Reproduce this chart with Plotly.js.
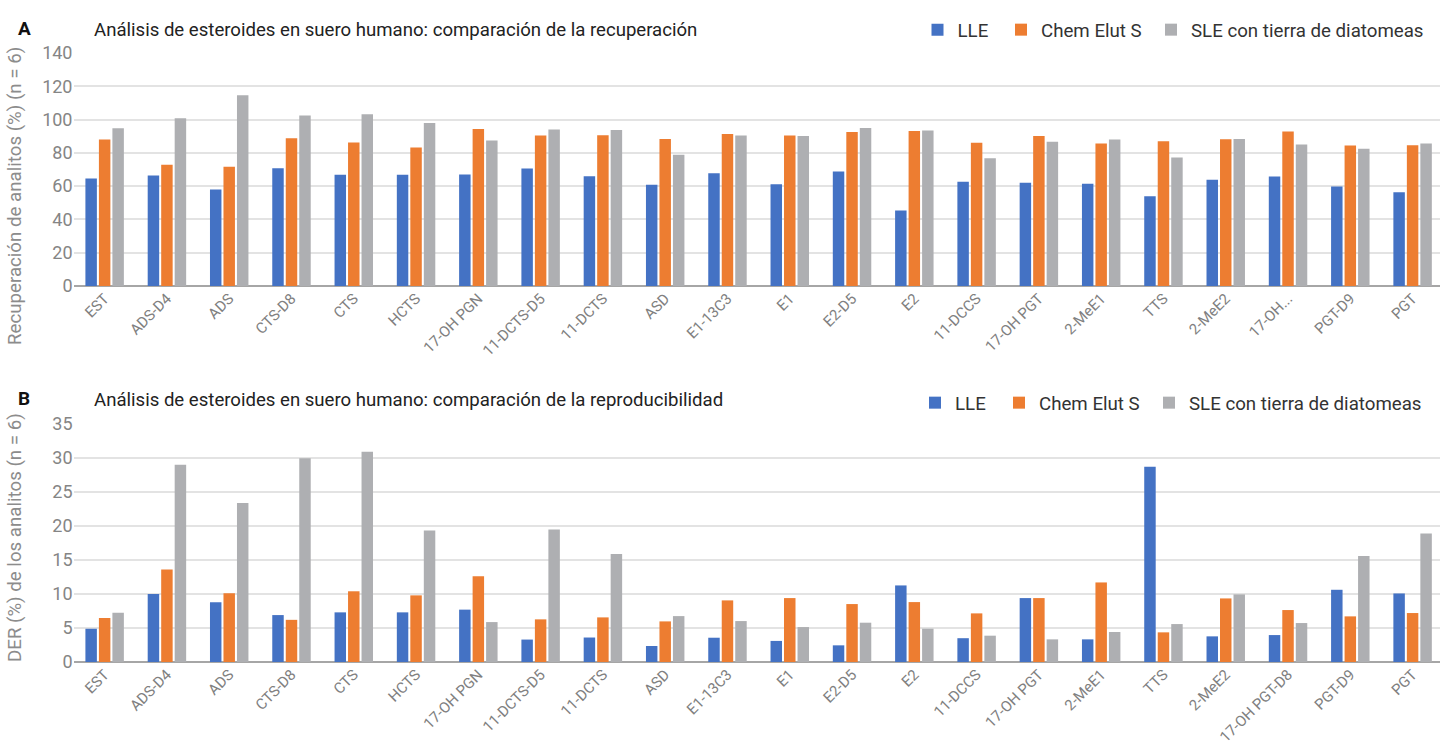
<!DOCTYPE html>
<html>
<head>
<meta charset="utf-8">
<script src="https://cdn.plot.ly/plotly-3.0.1.min.js"></script>
<style>html,body{margin:0;padding:0;background:#fff;}#chart{width:1440px;height:747px;}</style>
</head>
<body>
<div id="chart"></div>
<script>
// ---- Data ----
const categoriesA = ["EST","ADS-D4","ADS","CTS-D8","CTS","HCTS","17-OH PGN","11-DCTS-D5","11-DCTS","ASD","E1-13C3","E1","E2-D5","E2","11-DCCS","17-OH PGT","2-MeE1","TTS","2-MeE2","17-OH...","PGT-D9","PGT"];
const categoriesB = ["EST","ADS-D4","ADS","CTS-D8","CTS","HCTS","17-OH PGN","11-DCTS-D5","11-DCTS","ASD","E1-13C3","E1","E2-D5","E2","11-DCCS","17-OH PGT","2-MeE1","TTS","2-MeE2","17-OH PGT-D8","PGT-D9","PGT"];
const seriesNames = ["LLE","Chem Elut S","SLE con tierra de diatomeas"];

// Recovery (%) (n = 6)
const recLLE  = [64.6,66.4,58.0,70.8,66.8,66.8,67.0,70.6,66.0,60.8,67.8,61.2,68.8,45.4,62.6,62.0,61.4,54.0,63.8,65.8,59.8,56.4];
const recChem = [88.0,72.8,71.6,88.8,86.2,83.2,94.4,90.4,90.6,88.4,91.4,90.4,92.6,93.2,86.0,90.2,85.6,87.0,88.2,92.8,84.4,84.6];
const recSLE  = [94.8,100.8,114.6,102.4,103.2,98.0,87.4,94.0,93.8,78.8,90.4,90.2,95.0,93.4,76.8,86.6,88.0,77.2,88.4,85.0,82.4,85.6];

// RSD (%) (n = 6)
const derLLE  = [4.9,10.0,8.8,6.9,7.3,7.3,7.7,3.3,3.6,2.35,3.57,3.1,2.45,11.26,3.5,9.4,3.33,28.73,3.77,3.96,10.62,10.08];
const derChem = [6.46,13.6,10.1,6.2,10.4,9.8,12.6,6.27,6.56,5.97,9.06,9.4,8.52,8.81,7.15,9.4,11.7,4.36,9.35,7.64,6.71,7.2];
const derSLE  = [7.24,29.0,23.4,29.96,30.93,19.33,5.87,19.48,15.9,6.75,6.02,5.14,5.78,4.9,3.87,3.33,4.41,5.58,9.94,5.73,15.6,18.9];

const colors = ["#4472C4","#ED7D31","#AEAFB2"];

const W = 1440, H = 747;
const px = v => v / W, py = v => 1 - v / H;
const FONT = "Roboto, 'Noto Sans', sans-serif";

// legend ids: one legend per entry so each entry sits where the reference puts it
const legendIdsA = ["legend","legend2","legend3"];
const legendIdsB = ["legend4","legend5","legend6"];
const legendTextXA = [958.5, 1042, 1192];
const legendTextXB = [956, 1040, 1190];

// ---- Traces ----
const traces = [];
[recLLE, recChem, recSLE].forEach((vals, i) => {
  traces.push({type:"bar", x:categoriesA, y:vals, name:seriesNames[i], xaxis:"x", yaxis:"y", showlegend:true,
    marker:{color:colors[i], line:{width:0}}, legend:legendIdsA[i], hoverinfo:"x+y+name"});
});
[derLLE, derChem, derSLE].forEach((vals, i) => {
  traces.push({type:"bar", x:categoriesB, y:vals, name:seriesNames[i], xaxis:"x2", yaxis:"y2", showlegend:true,
    marker:{color:colors[i], line:{width:0}}, legend:legendIdsB[i], hoverinfo:"x+y+name"});
});

const xCommon = {
  type:"category", domain:[px(73.5), 1], range:[-0.5, 21.44],
  tickangle:-45, tickfont:{family:FONT, size:15, color:"#808080"},
  showgrid:false, showline:false, ticks:"", zeroline:false, fixedrange:true
};
const yCommon = {
  tickfont:{family:FONT, size:18, color:"#858585"}, showgrid:true, gridcolor:"#e3e3e3", gridwidth:2,
  zeroline:true, zerolinecolor:"#a6a6a6", zerolinewidth:2, showline:false, ticks:"", fixedrange:true
};

const layout = {
  width:W, height:H, margin:{l:0, r:0, t:0, b:0}, paper_bgcolor:"#fff", plot_bgcolor:"#fff",
  showlegend:true,
  barmode:"group", bargap:0.35, bargroupgap:0.15,
  font:{family:FONT},
  xaxis: Object.assign({}, xCommon, {anchor:"y"}),
  yaxis: Object.assign({}, yCommon, {domain:[py(286), py(53)], range:[0,140], dtick:20, anchor:"x"}),
  xaxis2: Object.assign({}, xCommon, {anchor:"y2"}),
  yaxis2: Object.assign({}, yCommon, {domain:[py(662), py(424)], range:[0,35], dtick:5, anchor:"x2"}),
  annotations:[
    {text:"<b>A</b>", xref:"paper", yref:"paper", x:px(16), y:py(28), xanchor:"left", yanchor:"middle", showarrow:false, font:{family:FONT, size:19, color:"#111"}},
    {text:"Análisis de esteroides en suero humano: comparación de la recuperación", xref:"paper", yref:"paper", x:px(92), y:py(30), xanchor:"left", yanchor:"middle", showarrow:false, font:{family:FONT, size:18.6, color:"#222"}},
    {text:"<b>B</b>", xref:"paper", yref:"paper", x:px(16), y:py(398), xanchor:"left", yanchor:"middle", showarrow:false, font:{family:FONT, size:19, color:"#111"}},
    {text:"Análisis de esteroides en suero humano: comparación de la reproducibilidad", xref:"paper", yref:"paper", x:px(92), y:py(400), xanchor:"left", yanchor:"middle", showarrow:false, font:{family:FONT, size:18.6, color:"#222"}},
    {text:"Recuperación de analitos (%) (n = 6)", xref:"paper", yref:"paper", x:px(15), y:py(196), xanchor:"center", yanchor:"middle", textangle:-90, showarrow:false, font:{family:FONT, size:18.7, color:"#8c8c8c"}},
    {text:"DER (%) de los analitos (n = 6)", xref:"paper", yref:"paper", x:px(15), y:py(538), xanchor:"center", yanchor:"middle", textangle:-90, showarrow:false, font:{family:FONT, size:18.7, color:"#8c8c8c"}}
  ]
};

const legendBase = (textX, yc) => ({orientation:"h", x:px(textX - 41), xanchor:"left", y:py(yc), yanchor:"middle",
  font:{family:FONT, size:18.7, color:"#333"}, bgcolor:"rgba(0,0,0,0)"});
legendIdsA.forEach((id, i) => { layout[id] = legendBase(legendTextXA[i], 30); });
legendIdsB.forEach((id, i) => { layout[id] = legendBase(legendTextXB[i], 403); });

Plotly.newPlot("chart", traces, layout, {displayModeBar:false, staticPlot:true});
</script>
</body>
</html>
